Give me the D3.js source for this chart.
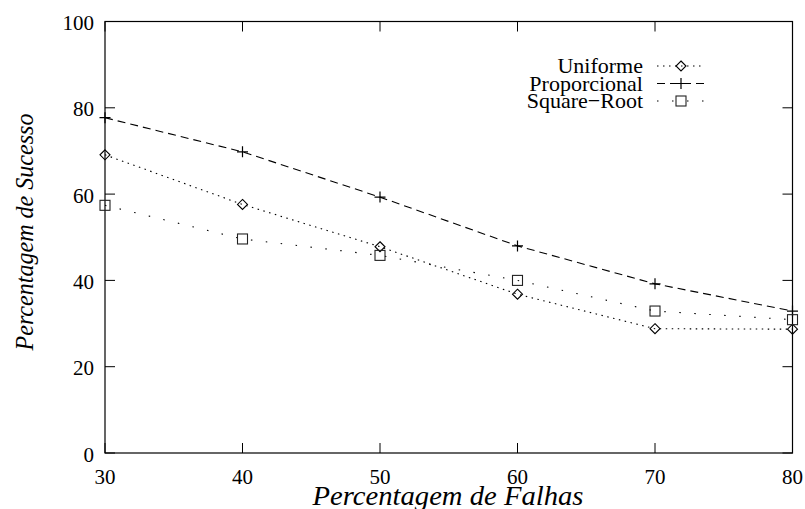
<!DOCTYPE html>
<html>
<head>
<meta charset="utf-8">
<script src="https://cdn.jsdelivr.net/npm/d3@7"></script>
<style>
body { margin: 0; background: #fff; }
svg text { font-family: "Liberation Serif", "Times New Roman", serif; fill: #000; }
</style>
</head>
<body>
<div id="chart"></div>
<script>
var falhas = [30, 40, 50, 60, 70, 80]
var uniforme = [69.1, 57.6, 47.8, 36.8, 28.8, 28.7]
var proporcional = [77.7, 69.8, 59.3, 48.0, 39.2, 32.9]
var squareRoot = [57.4, 49.6, 45.8, 40.0, 32.9, 30.9]
var xTicks = [30, 40, 50, 60, 70, 80]
var yTicks = [0, 20, 40, 60, 80, 100]
var seriesNames = ["Uniforme", "Proporcional", "Square\u2212Root"]

var width = 805,
height = 509,
margin = {top: 21.5, bottom: 56, left: 105, right: 12.5}

var svg = d3.select('#chart')
	.append("svg")
	.attr("width", width)
	.attr("height", height)

var x = d3.scaleLinear()
	.domain([30, 80])
	.range([margin.left, width - margin.right])

var y = d3.scaleLinear()
	.domain([0, 100])
	.range([height - margin.bottom, margin.top])

var tick = 10

// frame
svg.append("rect")
	.attr("x", x(30)).attr("y", y(100))
	.attr("width", x(80) - x(30)).attr("height", y(0) - y(100))
	.attr("fill", "none").attr("stroke", "#000").attr("stroke-width", 1.2)

// ticks, mirrored on all four sides
var g = svg.append("g").attr("stroke", "#000").attr("stroke-width", 1)
xTicks.forEach(function(t) {
	g.append("line").attr("x1", x(t)).attr("x2", x(t)).attr("y1", y(0)).attr("y2", y(0) - tick)
	g.append("line").attr("x1", x(t)).attr("x2", x(t)).attr("y1", y(100)).attr("y2", y(100) + tick)
})
yTicks.forEach(function(t) {
	g.append("line").attr("x1", x(30)).attr("x2", x(30) + tick).attr("y1", y(t)).attr("y2", y(t))
	g.append("line").attr("x1", x(80)).attr("x2", x(80) - tick).attr("y1", y(t)).attr("y2", y(t))
})

svg.append("g").selectAll("text")
	.data(xTicks)
	.enter().append("text")
	.attr("x", function(d) { return x(d) })
	.attr("y", y(0) + 31)
	.attr("text-anchor", "middle")
	.attr("font-size", 21)
	.text(function(d) { return d })

svg.append("g").selectAll("text")
	.data(yTicks)
	.enter().append("text")
	.attr("x", x(30) - 11)
	.attr("y", function(d) { return y(d) + 8.5 })
	.attr("text-anchor", "end")
	.attr("font-size", 21)
	.text(function(d) { return d })

// axis titles
svg.append("text")
	.attr("x", 448)
	.attr("y", 505)
	.attr("text-anchor", "middle")
	.attr("font-size", 27)
	.attr("font-style", "italic")
	.attr("textLength", 271)
	.attr("lengthAdjust", "spacingAndGlyphs")
	.text("Percentagem de Falhas")

svg.append("text")
	.attr("transform", "translate(33," + 232 + ") rotate(-90)")
	.attr("text-anchor", "middle")
	.attr("font-size", 26)
	.attr("font-style", "italic")
	.attr("textLength", 237)
	.attr("lengthAdjust", "spacingAndGlyphs")
	.text("Percentagem de Sucesso")

// series
var series = [
	{name: seriesNames[0], values: uniforme, dash: "1.5,4.5", marker: "diamond"},
	{name: seriesNames[1], values: proporcional, dash: "8,5", marker: "plus"},
	{name: seriesNames[2], values: squareRoot, dash: "1.5,13.5", marker: "square"}
]

var line = d3.line()
	.x(function(d, i) { return x(falhas[i]) })
	.y(function(d) { return y(d) })

function drawMarker(sel, type, cx, cy) {
	if (type == "diamond") {
		sel.append("path")
			.attr("d", "M" + cx + "," + (cy - 5) + "L" + (cx + 5) + "," + cy + "L" + cx + "," + (cy + 5) + "L" + (cx - 5) + "," + cy + "Z")
			.attr("fill", "none").attr("stroke", "#000").attr("stroke-width", 1.1)
	} else if (type == "plus") {
		sel.append("path")
			.attr("d", "M" + (cx - 5.5) + "," + cy + "H" + (cx + 5.5) + "M" + cx + "," + (cy - 5.5) + "V" + (cy + 5.5))
			.attr("fill", "none").attr("stroke", "#000").attr("stroke-width", 1.2)
	} else {
		sel.append("rect")
			.attr("x", cx - 5).attr("y", cy - 5).attr("width", 10).attr("height", 10)
			.attr("fill", "none").attr("stroke", "#222").attr("stroke-width", 1.1)
	}
}

series.forEach(function(s) {
	svg.append("path")
		.datum(s.values)
		.attr("d", line)
		.attr("fill", "none")
		.attr("stroke", "#000")
		.attr("stroke-width", 1.1)
		.attr("stroke-dasharray", s.dash)
	var mg = svg.append("g")
	s.values.forEach(function(v, i) { drawMarker(mg, s.marker, x(falhas[i]), y(v)) })
})

// legend
var legend = svg.append("g")
series.forEach(function(s, i) {
	var ly = 66 + i * 17.5
	legend.append("text")
		.attr("x", 643)
		.attr("y", ly + 7)
		.attr("text-anchor", "end")
		.attr("font-size", 22)
		.text(s.name)
	legend.append("line")
		.attr("x1", 657).attr("x2", 705)
		.attr("y1", ly).attr("y2", ly)
		.attr("stroke", "#000").attr("stroke-width", 1.1)
		.attr("stroke-dasharray", s.dash)
	drawMarker(legend, s.marker, 681, ly)
})
</script>
</body>
</html>
